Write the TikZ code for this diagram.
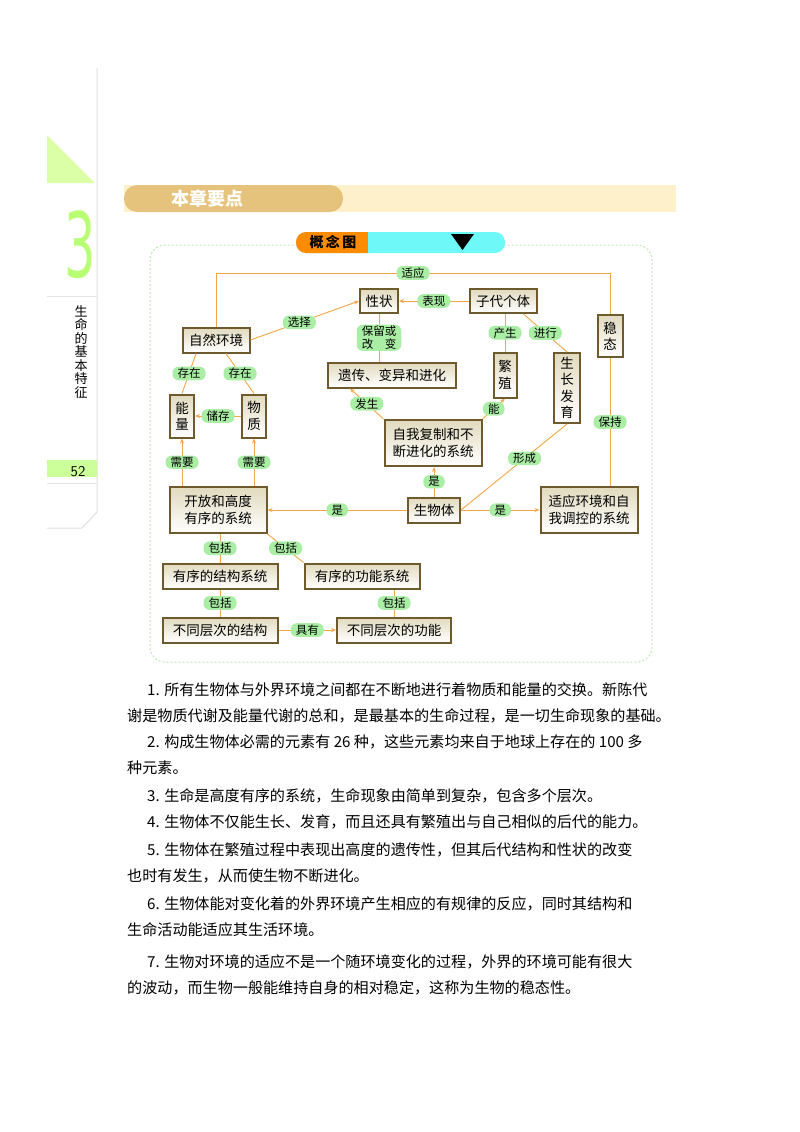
\documentclass[tikz,border=0pt]{standalone}
\usepackage{fontspec}
\setmainfont{Liberation Serif}
\newfontfamily\cjk{Noto Sans CJK SC}
\newfontfamily\thinsans{DejaVu Sans}[FakeStretch=0.55]
\usetikzlibrary{arrows.meta}
\definecolor{ln}{RGB}{245,165,70}
\definecolor{pill}{RGB}{170,238,165}
\definecolor{bxd}{RGB}{110,90,45}
\definecolor{bxl}{RGB}{225,218,190}
\definecolor{fr}{RGB}{185,235,175}
\definecolor{tan}{RGB}{230,195,125}
\definecolor{aqua}{RGB}{110,248,248}
\tikzset{
 bx/.style={draw=bxd, line width=2pt, top color=bxl, bottom color=white, inner sep=0pt, align=center, font=\cjk\fontsize{13.5}{16.5}\selectfont},
 lab/.style={fill=pill, rounded corners=6pt, inner xsep=5pt, inner ysep=1.5pt, font=\cjk\fontsize{11.5}{12.5}\selectfont, align=center},
 cn/.style={draw=ln, line width=0.9pt},
 ar/.style={cn, -{Stealth[length=5pt,width=4pt]}},
 para/.style={anchor=west, inner sep=0pt, font=\cjk\fontsize{15.1}{16}\selectfont}
}
\begin{document}
\begin{tikzpicture}[x=1pt,y=-1pt]
\useasboundingbox (0,0) rectangle (800,1132);
% left margin
\draw[gray!25, line width=1pt] (97,68) -- (97,512) -- (82,528) -- (47,528);
\draw[gray!20] (47,296) -- (97,296) (47,483) -- (97,483);
\fill[green!40!yellow!35] (47,135) -- (95,183) -- (47,183) -- cycle;
\node[font=\thinsans\fontsize{90}{90}\selectfont, text=green!50!yellow!55] (three) at (80,245) {3};
\node[font=\cjk\fontsize{13}{13.5}\selectfont, align=center] (vt) at (81,352) {生\\命\\的\\基\\本\\特\\征};
\fill[green!50!yellow!40] (47,460) rectangle (97,477);
\node[font=\sffamily\fontsize{15}{16}\selectfont] (pg) at (78,472) {52};
% header bar
\fill[yellow!10!white!90!orange] (124,185) rectangle (676,212);
\fill[tan, rounded corners=13pt] (124,185) rectangle (343,212);
\node[text=white, font=\cjk\bfseries\fontsize{18}{20}\selectfont] (hd) at (207,199) {本章要点};
% frame
\draw[fr, line width=1pt, dash pattern=on 2pt off 2pt, rounded corners=15pt] (150,245) rectangle (652,662);
\fill[aqua, rounded corners=10pt] (296,232) rectangle (505,253);
\fill[orange!90!yellow, rounded corners=10pt] (296,232) rectangle (380,253);
\fill[aqua] (368,232) rectangle (392,253);
\node[font=\cjk\bfseries\fontsize{14}{16}\selectfont] (gt) at (333,242.5) {概\,念\,图};
\fill[black] (451,234) -- (474,234) -- (462.5,250) -- cycle;
% nodes
\node[bx, minimum width=38, minimum height=24] (xz) at (379,301) {性状};
\node[bx, minimum width=67, minimum height=24] (zd) at (503,301) {子代个体};
\node[bx, minimum width=67, minimum height=25] (zr) at (216,340) {自然环境};
\node[bx, minimum width=128, minimum height=25] (yc) at (392,375) {遗传、变异和进化};
\node[bx, minimum width=23, minimum height=45] (fz) at (505,375) {繁\\殖};
\node[bx, minimum width=26, minimum height=70] (sz) at (567,388) {生\\长\\发\\育};
\node[bx, minimum width=25, minimum height=42] (wt) at (610,336) {稳\\态};
\node[bx, minimum width=24, minimum height=43] (nl) at (182,416) {能\\量};
\node[bx, minimum width=24, minimum height=43] (wz) at (254,416) {物\\质};
\node[bx, minimum width=97, minimum height=46] (zw) at (433,443) {自我复制和不\\断进化的系统};
\node[bx, minimum width=97, minimum height=46] (kf) at (218,510) {开放和高度\\有序的系统};
\node[bx, minimum width=52, minimum height=25] (swt) at (434,510) {生物体};
\node[bx, minimum width=97, minimum height=46] (sy) at (589,510) {适应环境和自\\我调控的系统};
\node[bx, minimum width=115, minimum height=25] (jg) at (220,576) {有序的结构系统};
\node[bx, minimum width=115, minimum height=25] (gn) at (362,576) {有序的功能系统};
\node[bx, minimum width=115, minimum height=25] (cj) at (220,630) {不同层次的结构};
\node[bx, minimum width=114, minimum height=25] (cg) at (394,630) {不同层次的功能};
% connectors
\draw[cn] (zr.north) -- (zr.north |- 0,273) -- node[lab]{适应} (wt.north |- 0,273) -- (wt.north);
\draw[ar] (zr.east) -- node[lab, pos=0.45]{选择} (xz.west);
\draw[ar] (zd.west) -- node[lab]{表现} (xz.east);
\draw[cn] (xz.south) -- node[lab]{保留或\\改\quad 变} (xz.south |- yc.north);
\draw[cn] (zd.south -| fz.north) -- node[lab]{产生} (fz.north);
\draw[cn] (zd.south east) ++(-14,0) coordinate (zde) -- node[lab]{进行} (sz.north);
\draw[cn] (zr.south) ++(-20,0) coordinate (zr1) -- node[lab]{存在} (nl.north);
\draw[cn] (zr.south) ++(10,0) coordinate (zr2) -- node[lab]{存在} (wz.north);
\draw[ar] (wz.west) -- node[lab]{储存} (nl.east);
\draw[ar] (zw.north west) -- node[lab]{发生} (yc.south -| 350,0);
\draw[ar] (zw.north east) -- node[lab]{能} (fz.south);
\draw[cn] (wt.south) -- node[lab]{保持} (wt.south |- sy.north);
\draw[cn] (sz.south) -- node[lab, pos=0.4]{形成} (swt.east);
\draw[ar] (kf.north -| nl.south) -- node[lab]{需要} (nl.south);
\draw[ar] (kf.north -| wz.south) -- node[lab]{需要} (wz.south);
\draw[ar] (swt.north) -- node[lab]{是} (zw.south -| swt.north);
\draw[ar] (swt.west) -- node[lab]{是} (kf.east);
\draw[ar] (swt.east) -- node[lab]{是} (sy.west);
\draw[cn] (kf.south -| jg.north) -- node[lab]{包括} (jg.north);
\draw[cn] (kf.south east) -- node[lab]{包括} (gn.north west);
\draw[cn] (jg.south) -- node[lab]{包括} (cj.north);
\draw[cn] (gn.south -| cg.north) -- node[lab]{包括} (cg.north);
\draw[ar] (cj.east) -- node[lab]{具有} (cg.west);
% text
\node[para] (p1a) at (147,690) {1. 所有生物体与外界环境之间都在不断地进行着物质和能量的交换。新陈代};
\node[para] (p1b) at (127,716) {谢是物质代谢及能量代谢的总和，是最基本的生命过程，是一切生命现象的基础。};
\node[para] (p2a) at (147,742) {2. 构成生物体必需的元素有 26 种，这些元素均来自于地球上存在的 100 多};
\node[para] (p2b) at (127,768) {种元素。};
\node[para] (p3) at (147,796) {3. 生命是高度有序的系统，生命现象由简单到复杂，包含多个层次。};
\node[para] (p4) at (147,822) {4. 生物体不仅能生长、发育，而且还具有繁殖出与自己相似的后代的能力。};
\node[para] (p5a) at (147,850) {5. 生物体在繁殖过程中表现出高度的遗传性，但其后代结构和性状的改变};
\node[para] (p5b) at (127,876) {也时有发生，从而使生物不断进化。};
\node[para] (p6a) at (147,904) {6. 生物体能对变化着的外界环境产生相应的有规律的反应，同时其结构和};
\node[para] (p6b) at (127,930) {生命活动能适应其生活环境。};
\node[para] (p7a) at (147,962) {7. 生物对环境的适应不是一个随环境变化的过程，外界的环境可能有很大};
\node[para] (p7b) at (127,988) {的波动，而生物一般能维持自身的相对稳定，这称为生物的稳态性。};
\end{tikzpicture}
\end{document}
